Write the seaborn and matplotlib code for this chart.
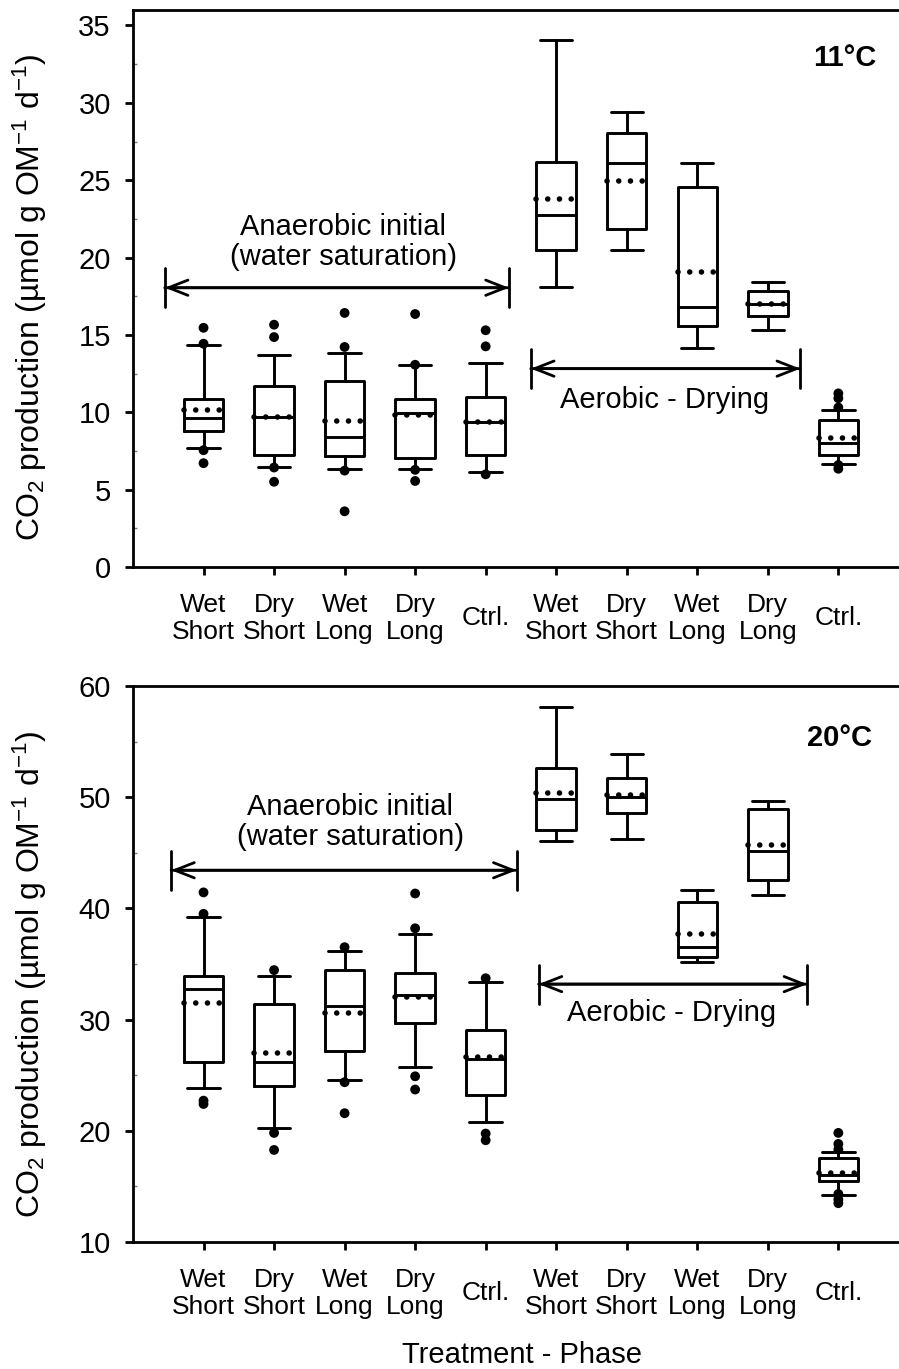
import matplotlib
matplotlib.use("Agg")
import matplotlib.pyplot as plt
import numpy as np
import pandas as pd
import seaborn as sns
from matplotlib.ticker import MultipleLocator

# ---------------- data ----------------
categories = ["Wet\nShort", "Dry\nShort", "Wet\nLong", "Dry\nLong", "Ctrl.",
              "Wet\nShort", "Dry\nShort", "Wet\nLong", "Dry\nLong", "Ctrl."]

# 11 °C panel
t11_whislo = [7.67, 6.47, 6.35, 6.31, 6.11, 18.10, 20.50, 14.15, 15.34, 6.67]
t11_q1     = [8.82, 7.24, 7.19, 7.07, 7.24, 20.50, 21.82, 15.58, 16.23, 7.24]
t11_median = [9.64, 9.71, 8.39, 9.95, 9.40, 22.73, 26.08, 16.83, 17.02, 8.03]
t11_mean   = [10.14, 9.71, 9.42, 9.83, 9.35, 23.81, 24.98, 19.06, 17.02, 8.32]
t11_q3     = [10.84, 11.70, 11.99, 10.86, 10.98, 26.18, 28.05, 24.57, 17.86, 9.47]
t11_whishi = [14.38, 13.67, 13.83, 13.07, 13.19, 34.04, 29.42, 26.13, 18.41, 10.12]
t11_outliers = [[15.46, 14.43, 7.55, 6.71], [15.66, 14.86, 6.43, 5.51],
                [16.42, 14.22, 6.23, 3.60], [16.35, 13.07, 6.28, 5.56],
                [15.30, 14.26, 5.99], [], [], [], [],
                [11.22, 10.91, 10.31, 6.59, 6.35]]

# 20 °C panel
t20_whislo = [23.81, 20.25, 24.60, 25.70, 20.78, 46.03, 46.26, 35.22, 41.20, 14.22]
t20_q1     = [26.23, 24.04, 27.20, 29.73, 23.21, 47.09, 48.59, 35.62, 42.57, 15.49]
t20_median = [32.72, 26.23, 31.19, 32.22, 26.47, 49.82, 49.99, 36.51, 45.16, 16.05]
t20_mean   = [31.46, 27.03, 30.56, 31.99, 26.63, 50.35, 50.22, 37.68, 45.70, 16.25]
t20_q3     = [33.95, 31.36, 34.45, 34.18, 29.06, 52.65, 51.75, 40.54, 48.92, 17.55]
t20_whishi = [39.27, 33.92, 36.21, 37.71, 33.35, 58.07, 53.85, 41.67, 49.69, 18.08]
t20_outliers = [[41.44, 39.51, 22.71, 22.41], [34.45, 19.81, 18.28],
                [36.51, 24.37, 21.58], [41.34, 38.21, 24.90, 23.71],
                [33.72, 19.75, 19.15], [], [], [], [],
                [19.81, 18.82, 18.32, 14.32, 13.83, 13.49]]

# ---------------- style ----------------
sns.set_style("ticks")
plt.rcParams["font.family"] = ["Liberation Sans", "DejaVu Sans"]
plt.rcParams["mathtext.fontset"] = "custom"
plt.rcParams["mathtext.rm"] = "Liberation Sans"
plt.rcParams["mathtext.it"] = "Liberation Sans"
plt.rcParams["axes.edgecolor"] = "black"
plt.rcParams["xtick.color"] = "black"
plt.rcParams["ytick.color"] = "black"
plt.rcParams["text.color"] = "black"
plt.rcParams["axes.labelcolor"] = "black"

W, H = 899, 1369
fig = plt.figure(figsize=(W / 100, H / 100), dpi=100)
ax1 = fig.add_axes([133 / W, 1 - 567 / H, 766 / W, 557 / H])
ax2 = fig.add_axes([133 / W, 1 - 1242 / H, 766 / W, 556 / H])

positions = np.arange(1, len(categories) + 1)
ylabel = r"CO$_\mathregular{2}$ production (µmol g OM$^\mathregular{-1}$ d$^\mathregular{-1}$)"


def draw_panel(ax, whislo, q1, med, mean, q3, whishi, outliers, ylim, yticks,
               minor, title, title_xy, arr1, txt1, arr2, txt2, label_y):
    stats = []
    for i in range(len(categories)):
        stats.append(dict(med=med[i], q1=q1[i], q3=q3[i], whislo=whislo[i],
                          whishi=whishi[i], mean=mean[i], fliers=[]))
    lp = dict(color="black", linewidth=2.1)
    ax.bxp(stats, positions=positions, widths=0.56, capwidths=0.46,
           showmeans=True, meanline=True, showfliers=False,
           boxprops=lp, whiskerprops=lp, capprops=lp, medianprops=lp,
           meanprops=dict(color="black", linewidth=4.0,
                          linestyle=(0, (0.01, 2.1)), dash_capstyle="round",
                          zorder=4))
    # outliers
    rows = [(positions[i], v) for i, vals in enumerate(outliers) for v in vals]
    df = pd.DataFrame(rows, columns=["pos", "value"])
    sns.scatterplot(data=df, x="pos", y="value", color="black", s=50,
                    edgecolor="none", legend=False, ax=ax, zorder=5)

    ax.set_xlim(0, 10.86)
    ax.set_ylim(*ylim)
    ax.set_yticks(yticks)
    ax.yaxis.set_minor_locator(MultipleLocator(minor))
    ax.set_xticks(positions)
    ax.set_xticklabels(categories, fontsize=19, va="center", linespacing=1.15)
    ax.tick_params(axis="x", which="major", length=6, width=2, pad=31,
                   direction="out")
    ax.tick_params(axis="y", which="major", length=6, width=2, pad=10,
                   labelsize=21, direction="out")
    ax.tick_params(axis="y", which="minor", length=3, width=1, direction="in",
                   color="#777777")
    for s in ["left", "top", "bottom"]:
        ax.spines[s].set_linewidth(2)
        ax.spines[s].set_color("black")
    ax.spines["right"].set_visible(False)
    ax.set_xlabel("")
    ax.set_ylabel(ylabel, fontsize=23)
    ax.yaxis.set_label_coords(-(133 - 30) / 766, label_y)
    ax.yaxis.label.set_va("center")

    ax.text(title_xy[0], title_xy[1], title, fontsize=21, fontweight="bold",
            ha="center", va="center")

    for (x0, x1, y), (tx, ty, s) in [(arr1, txt1), (arr2, txt2)]:
        ax.annotate("", xy=(x1, y), xytext=(x0, y),
                    arrowprops=dict(arrowstyle="<->,head_length=1.4,head_width=0.55",
                                    lw=2, color="black", shrinkA=0, shrinkB=0))
        ax.annotate("", xy=(x1, y), xytext=(x0, y),
                    arrowprops=dict(arrowstyle="|-|,widthA=1.4,widthB=1.4",
                                    lw=2, color="black", shrinkA=0, shrinkB=0))
        ax.text(tx, ty, s, fontsize=21, ha="center", va="center",
                linespacing=1.1)


draw_panel(ax1, t11_whislo, t11_q1, t11_median, t11_mean, t11_q3, t11_whishi,
           t11_outliers, (0, 36), np.arange(0, 36, 5), 2.5, "11°C",
           (10.09, 32.9),
           (0.45, 5.33, 18.05), (2.98, 21.0, "Anaerobic initial\n(water saturation)"),
           (5.64, 9.46, 12.82), (7.53, 10.78, "Aerobic - Drying"), 0.484)

draw_panel(ax2, t20_whislo, t20_q1, t20_median, t20_mean, t20_q3, t20_whishi,
           t20_outliers, (10, 60), np.arange(10, 61, 10), 5, "20°C",
           (10.02, 55.3),
           (0.54, 5.44, 43.43), (3.08, 47.77, "Anaerobic initial\n(water saturation)"),
           (5.75, 9.56, 33.19), (7.64, 30.6, "Aerobic - Drying"), 0.481)

fig.text(522 / W, 1 - 1355 / H, "Treatment - Phase", fontsize=21,
         ha="center", va="center")

fig.savefig("out.png", dpi=100)
